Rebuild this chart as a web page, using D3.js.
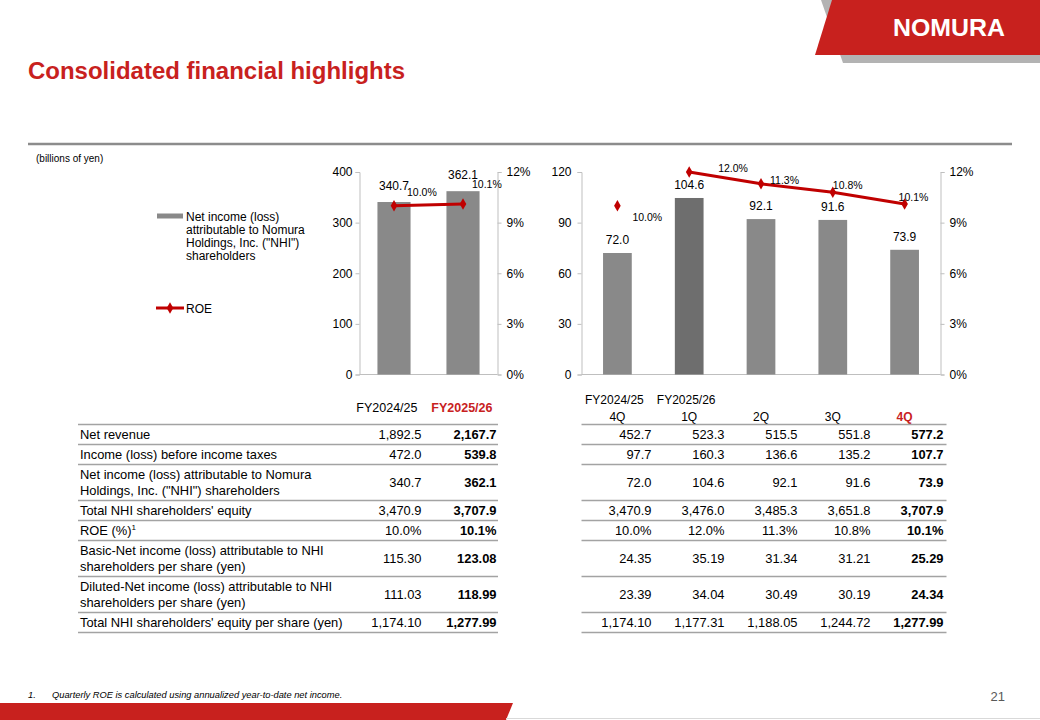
<!DOCTYPE html>
<html>
<head>
<meta charset="utf-8">
<script src="https://cdn.jsdelivr.net/npm/d3@7"></script>
<style>
body { margin: 0; background: #fff; }
svg { display: block; font-family: "Liberation Sans", Arial, sans-serif; }
</style>
</head>
<body>
<svg id="slide" width="1040" height="720"></svg>
<script>
// ---- chart data ----
const fyLabels = ["FY2024/25", "FY2025/26"];
const fyNetIncome = [340.7, 362.1];
const fyRoe = [10.0, 10.1];

const qYearLabels = ["FY2024/25", "FY2025/26", "", "", ""];
const qLabels = ["4Q", "1Q", "2Q", "3Q", "4Q"];
const qNetIncome = [72.0, 104.6, 92.1, 91.6, 73.9];
const qRoe = [10.0, 12.0, 11.3, 10.8, 10.1];
const qFiscalYear = [0, 1, 1, 1, 1]; // ROE line only joins quarters of the same year

const fyTicks = [0, 100, 200, 300, 400];
const qTicks = [0, 30, 60, 90, 120];
const roeTicks = [0, 3, 6, 9, 12];

// ---- table data ----
const rowLabels = [
    ["Net revenue"],
    ["Income (loss) before income taxes"],
    ["Net income (loss) attributable to Nomura", "Holdings, Inc. (\"NHI\") shareholders"],
    ["Total NHI shareholders' equity"],
    ["ROE (%)"],
    ["Basic-Net income (loss) attributable to NHI", "shareholders per share (yen)"],
    ["Diluted-Net income (loss) attributable to NHI", "shareholders per share (yen)"],
    ["Total NHI shareholders' equity per share (yen)"]
];
const fyTable = [
    ["1,892.5", "2,167.7"],
    ["472.0", "539.8"],
    ["340.7", "362.1"],
    ["3,470.9", "3,707.9"],
    ["10.0%", "10.1%"],
    ["115.30", "123.08"],
    ["111.03", "118.99"],
    ["1,174.10", "1,277.99"]
];
const qTable = [
    ["452.7", "523.3", "515.5", "551.8", "577.2"],
    ["97.7", "160.3", "136.6", "135.2", "107.7"],
    ["72.0", "104.6", "92.1", "91.6", "73.9"],
    ["3,470.9", "3,476.0", "3,485.3", "3,651.8", "3,707.9"],
    ["10.0%", "12.0%", "11.3%", "10.8%", "10.1%"],
    ["24.35", "35.19", "31.34", "31.21", "25.29"],
    ["23.39", "34.04", "30.49", "30.19", "24.34"],
    ["1,174.10", "1,177.31", "1,188.05", "1,244.72", "1,277.99"]
];
const noteRow = 4; // "ROE (%)" carries footnote 1

const RED = "#c8211e";
const LINE_RED = "#c00000";
const BAR = "#898989";
const BAR_DARK = "#6e6e6e";
const AXIS = "#bfbfbf";
const RULE = "#a3a3a3";

const svg = d3.select("#slide");

// ---- slide frame ----
svg.append("polygon").attr("points", "821,0 1040,0 1040,63 843,63").attr("fill", "#b3b3b3");
svg.append("polygon").attr("points", "832,0 1040,0 1040,55 815,55").attr("fill", RED);
svg.append("text").attr("x", 893).attr("y", 36).attr("fill", "#fff")
    .attr("font-size", 23).attr("font-weight", "bold")
    .attr("textLength", 112).attr("lengthAdjust", "spacingAndGlyphs")
    .text("NOMURA");

svg.append("text").attr("x", 28).attr("y", 79).attr("fill", RED)
    .attr("font-size", 24).attr("font-weight", "bold")
    .attr("textLength", 377).attr("lengthAdjust", "spacingAndGlyphs")
    .text("Consolidated financial highlights");

svg.append("line").attr("x1", 28).attr("x2", 1012).attr("y1", 144).attr("y2", 144)
    .attr("stroke", "#8c8c8c").attr("stroke-width", 2.5);

svg.append("text").attr("x", 36).attr("y", 162).attr("font-size", 10).text("(billions of yen)");

svg.append("polygon").attr("points", "0,703 513,703 506,720 0,720").attr("fill", RED);
svg.append("line").attr("x1", 506).attr("x2", 1040).attr("y1", 718.5).attr("y2", 718.5)
    .attr("stroke", "#d9d9d9").attr("stroke-width", 1);
svg.append("text").attr("x", 28).attr("y", 698).attr("font-size", 9.3).attr("font-style", "italic").text("1.");
svg.append("text").attr("x", 52).attr("y", 698).attr("font-size", 9.3).attr("font-style", "italic")
    .text("Quarterly ROE is calculated using annualized year-to-date net income.");
svg.append("text").attr("x", 1005).attr("y", 701).attr("font-size", 13).attr("fill", "#595959")
    .attr("text-anchor", "end").text("21");

// ---- bar + ROE chart ----
function drawChart(opt) {
    const g = svg.append("g");
    const x = d3.scaleBand().domain(d3.range(opt.values.length))
        .range([opt.left, opt.right]).paddingInner(opt.pad).paddingOuter(opt.pad / 2);
    const y = d3.scaleLinear().domain([0, d3.max(opt.ticks)]).range([opt.bottom, opt.top]);
    const y2 = d3.scaleLinear().domain([0, d3.max(roeTicks)]).range([opt.bottom, opt.top]);

    const leftAxis = g.append("g").attr("transform", "translate(" + opt.left + ",0)")
        .call(d3.axisLeft(y).tickValues(opt.ticks).tickSizeOuter(0).tickSize(4).tickPadding(opt.leftPad));
    const rightAxis = g.append("g").attr("transform", "translate(" + opt.right + ",0)")
        .call(d3.axisRight(y2).tickValues(roeTicks).tickSizeOuter(0).tickSize(4).tickPadding(5)
            .tickFormat(d => d + "%"));
    [leftAxis, rightAxis].forEach(a => {
        a.attr("font-family", null).attr("font-size", 12);
        a.selectAll("path, line").attr("stroke", AXIS);
        a.selectAll("text").attr("fill", "#000");
    });
    g.append("line").attr("x1", opt.left).attr("x2", opt.right)
        .attr("y1", y(0)).attr("y2", y(0)).attr("stroke", AXIS);

    g.selectAll(".bar").data(opt.values).enter().append("rect")
        .attr("class", "bar")
        .attr("x", (d, i) => x(i))
        .attr("width", x.bandwidth())
        .attr("y", d => y(d))
        .attr("height", d => y(0) - y(d))
        .attr("fill", (d, i) => i === opt.darkBar ? BAR_DARK : BAR);

    g.selectAll(".val").data(opt.values).enter().append("text")
        .attr("class", "val")
        .attr("x", (d, i) => x(i) + x.bandwidth() / 2)
        .attr("y", d => y(d) - opt.labelGap)
        .attr("text-anchor", "middle").attr("font-size", 12)
        .text(d => d.toFixed(1));

    const pts = opt.roe.map((r, i) => ({ x: x(i) + x.bandwidth() / 2, y: y2(r), r: r, grp: opt.groups[i] }));
    const line = d3.line().x(d => d.x).y(d => d.y);
    d3.groups(pts, d => d.grp).forEach(([k, arr]) => {
        if (arr.length > 1) {
            g.append("path").attr("d", line(arr)).attr("fill", "none")
                .attr("stroke", LINE_RED).attr("stroke-width", 3);
        }
    });
    g.selectAll(".mark").data(pts).enter().append("path")
        .attr("class", "mark")
        .attr("d", d3.symbol().type(d3.symbolDiamond).size(38))
        .attr("transform", d => "translate(" + d.x + "," + d.y + ")")
        .attr("fill", LINE_RED);
    g.selectAll(".roe").data(pts).enter().append("text")
        .attr("class", "roe")
        .attr("x", (d, i) => d.x + opt.roeNudge[i][0])
        .attr("y", (d, i) => d.y + opt.roeNudge[i][1])
        .attr("font-size", 10.5)
        .text(d => d.r.toFixed(1) + "%");

    return x;
}

drawChart({
    values: fyNetIncome, roe: fyRoe, groups: [0, 0], ticks: fyTicks,
    left: 359.5, right: 497.5, top: 172, bottom: 374.5, pad: 0.52, leftPad: 3,
    labelGap: 12, darkBar: -1,
    roeNudge: [[13, -10], [9, -16.5]]
});

const qx = drawChart({
    values: qNetIncome, roe: qRoe, groups: qFiscalYear, ticks: qTicks,
    left: 581.5, right: 940.5, top: 172, bottom: 374.5, pad: 0.6, leftPad: 6,
    labelGap: 9, darkBar: 1,
    roeNudge: [[15, 15], [29, 0], [9, 0], [0, -3.5], [-6, -3.5]]
});

// ---- legend ----
const lg = svg.append("g");
lg.append("rect").attr("x", 157).attr("y", 213.5).attr("width", 26).attr("height", 5).attr("fill", BAR);
lg.append("text").attr("font-size", 12).selectAll("tspan")
    .data(["Net income (loss)", "attributable to Nomura", "Holdings, Inc. (\"NHI\")", "shareholders"])
    .enter().append("tspan").attr("x", 186).attr("y", (d, i) => 220.5 + i * 13).text(d => d);
lg.append("line").attr("x1", 156).attr("x2", 184).attr("y1", 308).attr("y2", 308)
    .attr("stroke", LINE_RED).attr("stroke-width", 3);
lg.append("path").attr("d", d3.symbol().type(d3.symbolDiamond).size(38))
    .attr("transform", "translate(170,308)").attr("fill", LINE_RED);
lg.append("text").attr("x", 186).attr("y", 312.5).attr("font-size", 12).text("ROE");

// ---- quarter labels under right chart ----
const ql = svg.append("g").attr("font-size", 12).attr("text-anchor", "middle");
ql.selectAll(".yr").data(qYearLabels).enter().append("text")
    .attr("x", (d, i) => qx(i) + qx.bandwidth() / 2 - 3).attr("y", 403.5).text(d => d);
ql.selectAll(".q").data(qLabels).enter().append("text")
    .attr("x", (d, i) => qx(i) + qx.bandwidth() / 2).attr("y", 420.5)
    .attr("fill", (d, i) => i === qLabels.length - 1 ? RED : "#000")
    .attr("font-weight", (d, i) => i === qLabels.length - 1 ? "bold" : null)
    .text(d => d);

// ---- tables ----
const rowTop = [];
let yy = 424.5;
rowLabels.forEach(r => { rowTop.push(yy); yy += r.length > 1 ? 36 : 20; });
const tableBottom = yy;
const FS = 12.9;

function drawRules(x1, x2) {
    svg.append("g").selectAll("line").data(rowTop.concat([tableBottom])).enter().append("line")
        .attr("x1", x1).attr("x2", x2).attr("y1", d => d).attr("y2", d => d)
        .attr("stroke", RULE).attr("stroke-width", 1.4);
}

function drawValues(table, colRight) {
    const g = svg.append("g").attr("font-size", FS).attr("text-anchor", "end");
    table.forEach((row, r) => {
        const mid = rowTop[r] + (rowLabels[r].length > 1 ? 36 : 20) / 2;
        row.forEach((v, c) => {
            g.append("text").attr("x", colRight[c]).attr("y", mid + 4.5)
                .attr("font-weight", c === row.length - 1 ? "bold" : null)
                .text(v);
        });
    });
}

// left table
drawRules(78, 498);
const fyCols = [421.5, 496.5];
svg.append("g").attr("font-size", 12.5).selectAll("text").data(fyLabels).enter().append("text")
    .attr("x", (d, i) => fyCols[i] - 4).attr("y", 412).attr("text-anchor", "end")
    .attr("fill", (d, i) => i === fyLabels.length - 1 ? RED : "#000")
    .attr("font-weight", (d, i) => i === fyLabels.length - 1 ? "bold" : null)
    .text(d => d);
const lab = svg.append("g").attr("font-size", FS);
rowLabels.forEach((lines, r) => {
    const mid = rowTop[r] + (lines.length > 1 ? 36 : 20) / 2;
    const t = lab.append("text");
    lines.forEach((s, k) => {
        t.append("tspan").attr("x", 80)
            .attr("y", mid + 4.5 + (lines.length > 1 ? (k - 0.5) * 16.6 : 0)).text(s);
    });
    if (r === noteRow) {
        t.append("tspan").attr("font-size", 8).attr("dy", -5).text("1");
    }
});
drawValues(fyTable, fyCols);

// right table
drawRules(581.5, 946.5);
const qCol = d3.scaleBand().domain(d3.range(qLabels.length)).range([581.5, 946.5]);
drawValues(qTable, qLabels.map((d, i) => qCol(i) + qCol.bandwidth() - 3));
</script>
</body>
</html>
